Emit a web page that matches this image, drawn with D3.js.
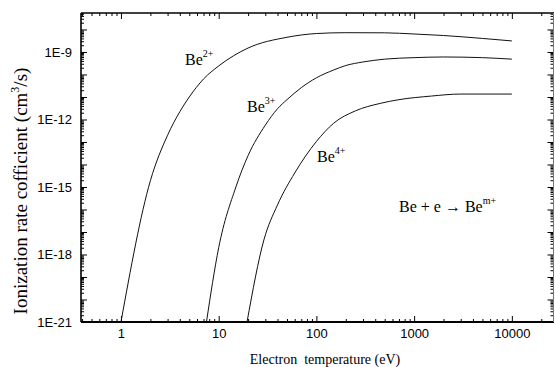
<!DOCTYPE html>
<html>
<head>
<meta charset="utf-8">
<script src="https://cdn.jsdelivr.net/npm/d3@7"></script>
<style>
  body { margin: 0; background: #fff; }
  svg { display: block; }
  .tick text { font-family: "Liberation Sans", Arial, sans-serif; font-size: 13px; fill: #000; }
  .lbl { font-family: "Liberation Serif", "Times New Roman", serif; fill: #000; }
</style>
</head>
<body>
<div id="vis"></div>
<script>
// electron temperature (eV) and rate coefficient (cm^3/s) for each ion
const be2Temp = [1, 2, 3, 4, 5, 7, 10, 20, 50, 100, 200, 500, 1000, 2000, 5000, 10000];
const be2Rate = [1e-21, 1.9e-15, 2.0e-13, 2.2e-12, 1.0e-11, 6.3e-11, 2.4e-10, 1.5e-9, 4.5e-9, 6.6e-9, 7.2e-9, 7.1e-9, 6.3e-9, 5.4e-9, 4.0e-9, 3.1e-9];

const be3Temp = [7.5, 10, 15, 20, 30, 40, 50, 70, 100, 150, 200, 300, 500, 1000, 2000, 5000, 10000];
const be3Rate = [1e-21, 2.0e-18, 1.0e-15, 2.5e-14, 5.6e-13, 3.0e-12, 7.6e-12, 2.6e-11, 7.1e-11, 1.58e-10, 2.5e-10, 3.6e-10, 4.8e-10, 5.6e-10, 6.0e-10, 5.6e-10, 4.8e-10];

const be4Temp = [19.5, 29, 40, 60, 100, 150, 250, 450, 700, 1500, 3000, 10000];
const be4Rate = [1e-21, 4.4e-18, 1.6e-16, 4.2e-15, 1.05e-13, 6.8e-13, 2.4e-12, 5.2e-12, 7.6e-12, 1.1e-11, 1.35e-11, 1.35e-11];

const xTickValues = [1, 10, 100, 1000, 10000];
const xTickLabels = ['1', '10', '100', '1000', '10000'];
const yTickValues = [1e-9, 1e-12, 1e-15, 1e-18, 1e-21];
const yTickLabels = ['1E-9', '1E-12', '1E-15', '1E-18', '1E-21'];

const series = [
  { temp: be2Temp, rate: be2Rate },
  { temp: be3Temp, rate: be3Rate },
  { temp: be4Temp, rate: be4Rate }
];

const width = 555, height = 367;
const plotLeft = 81, plotRight = 554, plotTop = 13, plotBottom = 322;

const svg = d3.select('#vis')
  .append('svg')
  .attr('width', width)
  .attr('height', height);

const x = d3.scaleLog()
  .domain([0.39, 27000])
  .range([plotLeft, plotRight]);

const y = d3.scaleLog()
  .domain([1e-21, 5.4e-8])
  .range([plotBottom, plotTop]);

// minor ticks 2..9 in every decade that falls inside the domain
function minorTicks(scale, lo, hi) {
  let out = [];
  const [d0, d1] = d3.extent(scale.domain());
  for (let n = lo; n <= hi; n++) {
    for (let k = 2; k <= 9; k++) {
      const v = k * Math.pow(10, n);
      if (v >= d0 && v <= d1) out.push(v);
    }
  }
  return out;
}

const xMajor = [1, 10, 100, 1000, 10000];
const yMajor = d3.range(-21, -7).map(n => Math.pow(10, n));

function styleAxis(g) {
  g.select('.domain').remove();
  g.selectAll('.tick line').attr('stroke', '#000').attr('stroke-width', 1);
}

// bottom axis
svg.append('g')
  .attr('transform', `translate(0,${plotBottom})`)
  .call(d3.axisBottom(x).tickValues(minorTicks(x, -1, 4)).tickSize(-3).tickFormat(''))
  .call(styleAxis);
svg.append('g')
  .attr('transform', `translate(0,${plotBottom})`)
  .call(d3.axisBottom(x).tickValues(xMajor).tickSize(-6).tickPadding(7)
    .tickFormat(d => xTickLabels[xTickValues.indexOf(d)] || ''))
  .call(styleAxis);

// top axis
svg.append('g')
  .attr('transform', `translate(0,${plotTop})`)
  .call(d3.axisTop(x).tickValues(minorTicks(x, -1, 4)).tickSize(-3).tickFormat(''))
  .call(styleAxis);
svg.append('g')
  .attr('transform', `translate(0,${plotTop})`)
  .call(d3.axisTop(x).tickValues(xMajor).tickSize(-6).tickFormat(''))
  .call(styleAxis);

// left axis
svg.append('g')
  .attr('transform', `translate(${plotLeft},0)`)
  .call(d3.axisLeft(y).tickValues(minorTicks(y, -22, -8)).tickSize(-3).tickFormat(''))
  .call(styleAxis);
svg.append('g')
  .attr('transform', `translate(${plotLeft},0)`)
  .call(d3.axisLeft(y).tickValues(yMajor).tickSize(-6).tickPadding(9)
    .tickFormat(d => {
      const i = yTickValues.findIndex(v => Math.abs(Math.log10(v) - Math.log10(d)) < 1e-6);
      return i >= 0 ? yTickLabels[i] : '';
    }))
  .call(styleAxis);

// right axis
svg.append('g')
  .attr('transform', `translate(${plotRight - 0.5},0)`)
  .call(d3.axisRight(y).tickValues(minorTicks(y, -22, -8)).tickSize(-3).tickFormat(''))
  .call(styleAxis);
svg.append('g')
  .attr('transform', `translate(${plotRight - 0.5},0)`)
  .call(d3.axisRight(y).tickValues(yMajor).tickSize(-6).tickFormat(''))
  .call(styleAxis);

// frame
svg.append('line').attr('x1', plotLeft).attr('x2', plotRight).attr('y1', plotBottom).attr('y2', plotBottom)
  .attr('stroke', '#000').attr('stroke-width', 2);
svg.append('line').attr('x1', plotLeft).attr('x2', plotRight).attr('y1', plotTop).attr('y2', plotTop)
  .attr('stroke', '#000').attr('stroke-width', 1.3);
svg.append('line').attr('x1', plotLeft).attr('x2', plotLeft).attr('y1', plotTop).attr('y2', plotBottom)
  .attr('stroke', '#000').attr('stroke-width', 1.6);
svg.append('line').attr('x1', plotRight - 0.5).attr('x2', plotRight - 0.5).attr('y1', plotTop).attr('y2', plotBottom)
  .attr('stroke', '#777').attr('stroke-width', 1);

// curves
const line = d3.line()
  .curve(d3.curveMonotoneX)
  .x(d => x(d[0]))
  .y(d => y(d[1]));

svg.selectAll('.curve')
  .data(series)
  .enter()
  .append('path')
  .attr('class', 'curve')
  .attr('d', s => line(s.temp.map((t, i) => [t, s.rate[i]])))
  .attr('fill', 'none')
  .attr('stroke', '#111')
  .attr('stroke-width', 1);

// ion labels
const ionLabels = [
  { x: 185, y: 65, base: 'Be', sup: '2+' },
  { x: 247, y: 112, base: 'Be', sup: '3+' },
  { x: 317, y: 162, base: 'Be', sup: '4+' }
];
ionLabels.forEach(d => {
  const t = svg.append('text')
    .attr('class', 'lbl')
    .attr('x', d.x)
    .attr('y', d.y)
    .attr('font-size', '16px');
  t.append('tspan').text(d.base);
  t.append('tspan').attr('dy', -8).attr('font-size', '10px').text(d.sup);
});

// reaction
const rx = svg.append('text')
  .attr('class', 'lbl')
  .attr('x', 399)
  .attr('y', 212)
  .attr('font-size', '16px');
rx.append('tspan').text('Be + e \u2192 Be');
rx.append('tspan').attr('dy', -8).attr('font-size', '10px').text('m+');

// axis titles
svg.append('text')
  .attr('class', 'lbl')
  .attr('x', 325)
  .attr('y', 364)
  .attr('text-anchor', 'middle')
  .attr('font-size', '14px')
  .style('white-space', 'pre')
  .text('Electron  temperature (eV)');

const yt = svg.append('text')
  .attr('class', 'lbl')
  .attr('transform', 'translate(27,191) rotate(-90)')
  .attr('text-anchor', 'middle')
  .attr('font-size', '19px');
yt.append('tspan').text('Ionization rate cofficient (cm');
yt.append('tspan').attr('dy', -8).attr('font-size', '12px').text('3');
yt.append('tspan').attr('dy', 8).text('/s)');
</script>
</body>
</html>
